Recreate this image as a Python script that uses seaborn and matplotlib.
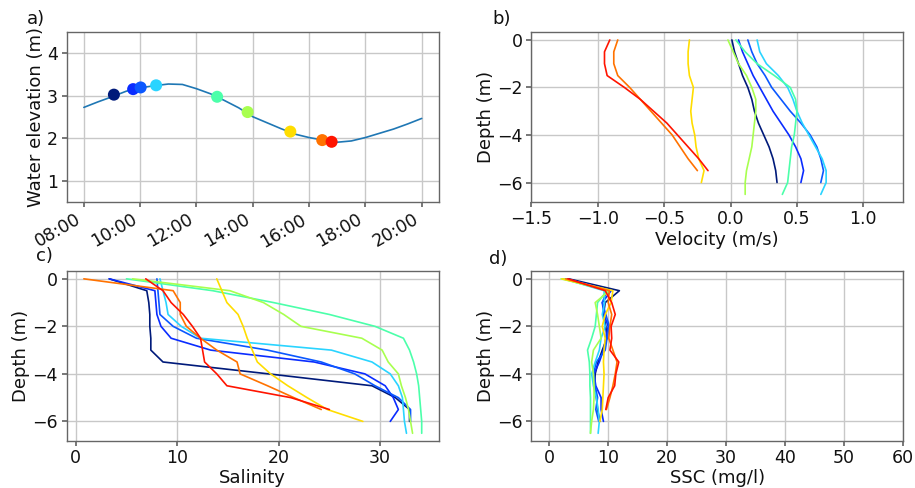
import matplotlib
matplotlib.use("Agg")
import matplotlib.dates as mdates
import matplotlib.pyplot as plt
import pandas as pd
import seaborn as sns

# water level record (every 30 min)
tide_times = ["08:00", "08:30", "09:00", "09:30", "10:00", "10:30", "11:00", "11:30",
              "12:00", "12:30", "13:00", "13:30", "14:00", "14:30", "15:00", "15:30",
              "16:00", "16:30", "17:00", "17:30", "18:00", "18:30", "19:00", "19:30", "20:00"]
tide_elev = [2.73, 2.86, 2.98, 3.11, 3.19, 3.24, 3.28, 3.27,
             3.17, 3.05, 2.89, 2.72, 2.51, 2.37, 2.23, 2.10,
             2.02, 1.96, 1.91, 1.94, 2.02, 2.12, 2.22, 2.34, 2.47]

# CTD / ADCP casts
cast_times = ["09:04", "09:45", "10:01", "10:34", "12:44", "13:49", "15:20", "16:28", "16:48"]
cast_elev = [3.03, 3.16, 3.20, 3.25, 2.98, 2.62, 2.16, 1.96, 1.92]
cast_colors = ["#001a7a", "#0a2cff", "#0b58ff", "#2ad4ff", "#4cffaa",
               "#a8ff4f", "#ffdd00", "#ff7200", "#ff1400"]

depths = [0, -0.5, -1, -1.5, -2, -2.5, -3, -3.5, -4, -4.5, -5, -5.5, -6, -6.5]

velocity = [
    [0.01, 0.03, 0.06, 0.09, 0.13, 0.16, 0.18, 0.21, 0.25, 0.29, 0.32, 0.34, 0.35],
    [0.06, 0.09, 0.13, 0.17, 0.22, 0.27, 0.32, 0.38, 0.44, 0.49, 0.53, 0.55, 0.53],
    [0.13, 0.16, 0.20, 0.26, 0.31, 0.38, 0.45, 0.53, 0.60, 0.65, 0.68, 0.70, 0.68],
    [0.20, 0.22, 0.27, 0.36, 0.43, 0.47, 0.50, 0.54, 0.59, 0.64, 0.69, 0.72, 0.72, 0.68],
    [0.04, 0.11, 0.20, 0.33, 0.45, 0.49, 0.50, 0.49, 0.48, 0.46, 0.45, 0.44, 0.43, 0.39],
    [-0.02, 0.02, 0.06, 0.12, 0.16, 0.19, 0.19, 0.18, 0.17, 0.16, 0.14, 0.12, 0.11, 0.11],
    [-0.31, -0.32, -0.32, -0.31, -0.28, -0.29, -0.30, -0.29, -0.27, -0.26, -0.24, -0.20, -0.22],
    [-0.85, -0.88, -0.88, -0.85, -0.76, -0.68, -0.60, -0.52, -0.44, -0.38, -0.32, -0.25],
    [-0.91, -0.95, -0.95, -0.93, -0.80, -0.68, -0.58, -0.48, -0.40, -0.32, -0.24, -0.17],
]

salinity = [
    [3.3, 7.0, 7.2, 7.3, 7.3, 7.4, 7.4, 8.6, 19.0, 29.2, 31.5, 32.9, 32.9],
    [3.3, 7.8, 7.9, 8.0, 8.4, 9.4, 13.3, 23.5, 28.5, 30.5, 31.3, 31.8, 31.0],
    [8.0, 8.1, 8.2, 8.3, 9.6, 11.9, 18.9, 24.2, 27.5, 29.5, 31.8, 33.0, 33.0],
    [8.3, 8.6, 8.9, 9.1, 10.4, 12.3, 25.2, 29.2, 31.0, 31.8, 32.2, 32.3, 32.4, 32.6],
    [5.0, 13.5, 19.5, 25.0, 29.5, 32.3, 32.9, 33.3, 33.6, 33.8, 33.9, 34.0, 34.1, 34.1],
    [5.6, 15.2, 18.5, 20.5, 22.2, 28.2, 30.2, 30.8, 31.8, 32.1, 32.5, 32.8, 33.0, 33.2],
    [13.9, 14.4, 14.9, 16.0, 16.5, 16.9, 17.4, 17.9, 19.2, 20.9, 22.8, 24.8, 28.3],
    [0.8, 9.6, 10.3, 10.3, 10.9, 12.3, 13.9, 15.9, 16.2, 18.9, 21.5, 24.2],
    [6.9, 8.6, 9.4, 10.6, 11.5, 12.3, 12.5, 12.7, 13.9, 14.9, 21.2, 25.0],
]

ssc = [
    [3.3, 11.9, 9.5, 9.2, 9.6, 9.8, 9.0, 8.3, 7.8, 7.7, 8.0, 8.2, 8.6],
    [3.0, 10.5, 9.0, 9.3, 10.0, 9.6, 9.2, 8.5, 7.6, 7.9, 8.8, 8.8, 9.2],
    [2.8, 9.8, 9.0, 9.6, 10.2, 9.8, 9.5, 8.0, 7.5, 7.8, 8.2, 7.9, 8.4],
    [2.5, 9.3, 9.4, 9.0, 9.5, 8.8, 8.5, 7.8, 7.2, 7.5, 8.0, 8.3, 8.5, 8.3],
    [2.4, 9.8, 8.2, 8.0, 7.8, 7.2, 6.5, 6.8, 6.9, 6.9, 7.0, 7.0, 7.0, 7.0],
    [2.0, 10.2, 7.8, 8.2, 8.5, 8.8, 7.5, 7.2, 7.5, 7.6, 7.6, 7.5, 7.2, 7.0],
    [2.2, 10.8, 10.5, 9.5, 9.0, 9.5, 9.3, 9.2, 9.3, 9.2, 9.1, 9.0, 8.6],
    [2.8, 10.2, 10.0, 10.6, 10.3, 10.1, 10.8, 11.5, 11.2, 10.8, 10.3, 9.7],
    [3.2, 9.5, 10.6, 11.2, 10.5, 10.6, 10.3, 11.8, 11.3, 11.1, 10.0, 9.6],
]

sns.set_theme(style="whitegrid", rc={
    "axes.edgecolor": "#666666",
    "axes.linewidth": 1.0,
    "axes.labelpad": 1.5,
    "grid.color": "#c8c8c8",
    "grid.linewidth": 1.0,
    "xtick.bottom": True,
    "ytick.left": True,
    "xtick.major.size": 3.5,
    "ytick.major.size": 3.5,
    "xtick.major.pad": 2.5,
    "ytick.major.pad": 3,
    "xtick.color": "#666666",
    "ytick.color": "#666666",
    "xtick.labelcolor": "#111111",
    "ytick.labelcolor": "#111111",
    "xtick.labelsize": 12.5,
    "ytick.labelsize": 12.5,
    "axes.labelsize": 13,
    "axes.labelcolor": "#111111",
})
plt.rcParams["font.family"] = ["DejaVu Sans"]

day = "2019-06-01 "
tide = pd.DataFrame({"time": pd.to_datetime([day + t for t in tide_times]), "elev": tide_elev})
casts = pd.DataFrame({"time": pd.to_datetime([day + t for t in cast_times]),
                      "elev": cast_elev, "cast": range(len(cast_times))})

rows = []
for i in range(len(cast_times)):
    for j in range(len(salinity[i])):
        rows.append({"cast": i, "depth": depths[j], "velocity": velocity[i][j],
                     "salinity": salinity[i][j], "ssc": ssc[i][j]})
prof = pd.DataFrame(rows)

fig, axes = plt.subplots(2, 2, figsize=(9.15, 4.88), dpi=100)
fig.subplots_adjust(left=0.0732, right=0.987, top=0.934, bottom=0.0963, wspace=0.25, hspace=0.406)

# a) water level
ax = axes[0, 0]
sns.lineplot(data=tide, x="time", y="elev", color="#1f77b4", linewidth=1.2, ax=ax)
sns.scatterplot(data=casts, x="time", y="elev", hue="cast", palette=cast_colors,
                s=75, linewidth=0, legend=False, zorder=3, ax=ax)
ax.xaxis.set_major_locator(mdates.HourLocator(byhour=range(8, 21, 2)))
ax.xaxis.set_major_formatter(mdates.DateFormatter("%H:%M"))
plt.setp(ax.get_xticklabels(), rotation=30, ha="right")
ax.set_ylim(0.5, 4.5)
ax.set_yticks([1, 2, 3, 4])
ax.set_xlabel("")
ax.set_ylabel("Water elevation (m)")

# profile panels
for ax, var, label, ticks in [
    (axes[0, 1], "velocity", "Velocity (m/s)", [-1.5, -1.0, -0.5, 0.0, 0.5, 1.0]),
    (axes[1, 0], "salinity", "Salinity", [0, 10, 20, 30]),
    (axes[1, 1], "ssc", "SSC (mg/l)", [0, 10, 20, 30, 40, 50, 60]),
]:
    sns.lineplot(data=prof, x=var, y="depth", hue="cast", palette=cast_colors,
                 sort=False, estimator=None, orient="y", linewidth=1.2, legend=False, ax=ax)
    ax.set_xticks(ticks)
    ax.set_yticks([-6, -4, -2, 0])
    ax.set_ylim(-6.825, 0.325)
    ax.set_xlabel(label)
    ax.set_ylabel("Depth (m)")

axes[0, 1].set_xlim(-1.5, 1.3)
axes[1, 1].set_xlim(-3, 60)

for x, y, s in [(0.0295, 0.98, "a)"), (0.5377, 0.98, "b)"),
                (0.0393, 0.494, "c)"), (0.5344, 0.488, "d)")]:
    fig.text(x, y, s, fontsize=13, va="top", ha="left", color="#111111")

fig.savefig("out.png", dpi=100)
